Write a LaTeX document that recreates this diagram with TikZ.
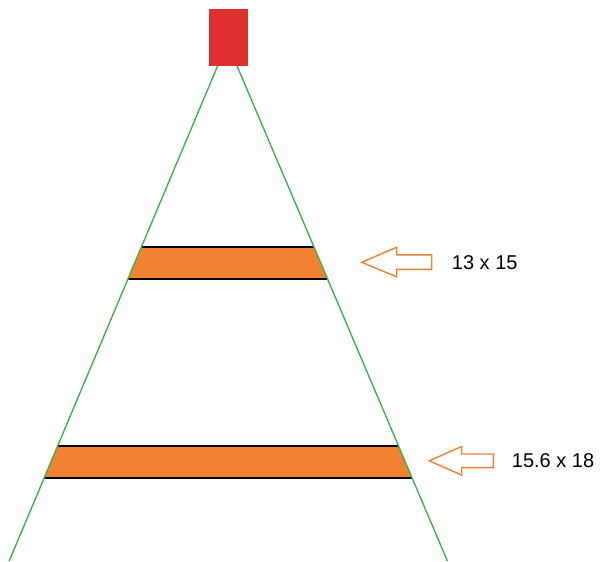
\documentclass[tikz,border=0pt]{standalone}
\usepackage{fontspec}
\setmainfont{Liberation Sans}
\usetikzlibrary{calc}
\definecolor{camred}{RGB}{224,48,48}
\definecolor{bandorange}{RGB}{242,130,50}
\definecolor{raygreen}{RGB}{60,180,75}

\begin{document}
\begin{tikzpicture}[
    x=0.025cm, y=-0.025cm,
    ray/.style={raygreen, line width=0.035cm},
    band/.style={fill=bandorange, draw=none},
    edge/.style={black, line width=0.04cm},
    pointer/.style={draw=bandorange, fill=white, line width=0.035cm, line join=miter},
    camera/.style={rectangle, fill=camred, minimum width=0.975cm, minimum height=1.425cm, inner sep=0pt},
    size/.style={anchor=west, inner sep=0pt, font=\fontsize{14.2}{17}\selectfont}
]
    \useasboundingbox (0,0) rectangle (600,561);

    % apex of the field of view and the foot of both rays
    \coordinate (apex) at (227.3,43);
    \coordinate (bl) at (9.2,561);
    \coordinate (br) at (447.4,561);

    % sections through the cone
    \foreach \top/\bot/\name in {247/279/near, 446/478/far} {
        \pgfmathsetmacro{\ft}{(\top-43)/518}
        \pgfmathsetmacro{\fb}{(\bot-43)/518}
        \coordinate (\name-tl) at ($(apex)!\ft!(bl)$);
        \coordinate (\name-tr) at ($(apex)!\ft!(br)$);
        \coordinate (\name-bl) at ($(apex)!\fb!(bl)$);
        \coordinate (\name-br) at ($(apex)!\fb!(br)$);
        \fill[band] (\name-tl) -- (\name-tr) -- (\name-br) -- (\name-bl) -- cycle;
        \draw[edge] (\name-tl) -- (\name-tr);
        \draw[edge] (\name-bl) -- (\name-br);
    }

    % rays
    \draw[ray] (apex) -- (bl);
    \draw[ray] (apex) -- (br);

    % camera
    \node[camera] (cam) at (228.5,37.5) {};

    % size marks
    \draw[pointer] (361.7,262.3) -- ++(35,-15) -- ++(0,7.5) -- ++(35,0) -- ++(0,14.5)
        -- ++(-35,0) -- ++(0,7.5) -- cycle;
    \node[size] (near-size) at (451.7,262.3) {13 x 15};

    \draw[pointer] (429.3,460.8) -- ++(32.4,-14.3) -- ++(0,7.5) -- ++(31.6,0) -- ++(0,13.6)
        -- ++(-31.6,0) -- ++(0,7.5) -- cycle;
    \node[size] (far-size) at (511.7,460.8) {15.6 x 18};
\end{tikzpicture}
\end{document}
